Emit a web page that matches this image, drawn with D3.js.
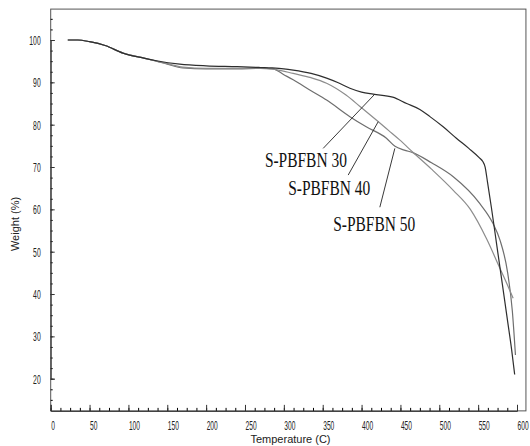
<html>
<head>
<script src="https://d3js.org/d3.v7.min.js"></script>
<style>
body { margin: 0; background: #fff; }
.tick text { font-family: "Liberation Sans", Arial, sans-serif; font-size: 13.5px; fill: #222; }
.axis-title { font-family: "Liberation Sans", Arial, sans-serif; font-size: 11px; fill: #222; }
.lbl { font-family: "Liberation Serif", "Times New Roman", serif; font-size: 20px; fill: #111; }
</style>
</head>
<body>
<svg id="chart" width="530" height="446"></svg>
<script>
// TGA curves: temperature (C) and weight (%)
var tempA = [22, 35, 50, 70, 93, 120, 136, 166, 200, 240, 270, 285, 300, 312, 335, 355, 370, 385, 400, 415, 440, 458, 475, 488, 505, 522, 538, 552, 556, 559, 562, 567, 574, 581, 588, 593, 597]
var wtA   = [100, 100, 99.6, 98.7, 96.9, 95.7, 95.1, 94.3, 93.9, 93.7, 93.5, 93.4, 93.2, 92.9, 92.1, 91.0, 89.9, 88.6, 87.7, 87.2, 86.5, 85.0, 83.6, 81.9, 79.5, 76.8, 74.4, 72.1, 71.3, 70.0, 66.5, 60.5, 51.5, 42.5, 33.5, 27, 21]

var tempB = [22, 35, 50, 70, 93, 120, 136, 150, 170, 200, 240, 270, 290, 312, 335, 355, 380, 398, 419, 435, 449, 466, 490, 518, 540, 561, 577, 588, 595]
var wtB   = [100, 100, 99.6, 98.7, 96.9, 95.7, 95.0, 94.4, 93.6, 93.3, 93.3, 93.4, 93.0, 92.1, 91.1, 89.8, 87.0, 84.3, 81.1, 78.6, 76.4, 73.5, 69.5, 64.5, 60, 53, 46.5, 42, 39]

var tempC = [22, 35, 50, 70, 93, 120, 136, 150, 170, 200, 240, 270, 286, 300, 312, 335, 355, 385, 406, 432, 443, 455, 466, 490, 518, 552, 569, 578, 588, 594, 598]
var wtC   = [100, 100, 99.6, 98.7, 96.9, 95.7, 95.0, 94.3, 93.4, 93.2, 93.2, 93.3, 93.2, 91.8, 90.6, 88.0, 85.8, 81.9, 79.5, 76.8, 74.9, 74.0, 73.4, 71, 67.7, 61.4, 56.7, 52.8, 45, 36, 25.6]

var seriesNames = ["S-PBFBN 30", "S-PBFBN 40", "S-PBFBN 50"]
var xTicks = [0, 50, 100, 150, 200, 250, 300, 350, 400, 450, 500, 550, 600]
var yTicks = [20, 30, 40, 50, 60, 70, 80, 90, 100]
// label text position and leader line (from, to) in data units
var labelPos = [[275.6, 70.0], [305.6, 63.3], [363.5, 55.0]]
var leaderFrom = [[350.6, 74.4], [382.8, 68.1], [423.5, 60.5]]
var leaderTo = [[417, 87.2], [421.4, 80.7], [442.8, 74.4]]

var svg = d3.select("#chart")
var x = d3.scaleLinear().domain([0, 600]).range([50.7, 517])
var y = d3.scaleLinear().domain([20, 100]).range([378.7, 40])
var xMax = 611.5, yMin = 12.4, yMax = 107.3

// frame
svg.append("rect")
    .attr("x", x(0)).attr("y", y(yMax))
    .attr("width", x(xMax) - x(0)).attr("height", y(yMin) - y(yMax))
    .attr("fill", "none").attr("stroke", "#555").attr("stroke-width", 1)

// minor ticks
svg.append("g")
    .attr("transform", "translate(0," + y(yMin) + ")")
    .call(d3.axisBottom(x).tickValues(d3.range(0, 612, 12.5)).tickSize(-3).tickFormat(""))
    .call(g => g.select(".domain").remove())
svg.append("g")
    .attr("transform", "translate(" + x(0) + ",0)")
    .call(d3.axisLeft(y).tickValues(d3.range(15, 107, 2.5)).tickSize(-2).tickFormat(""))
    .call(g => g.select(".domain").remove())

// major ticks + labels
var gx = svg.append("g")
    .attr("transform", "translate(0," + y(yMin) + ")")
    .call(d3.axisBottom(x).tickValues(xTicks).tickSize(-6).tickPadding(10))
gx.select(".domain").attr("stroke", "#333")
gx.selectAll(".tick line").attr("stroke", "#333")
gx.selectAll(".tick text")
    .attr("text-anchor", "start")
    .attr("textLength", d => String(d).length * 3.7)
    .attr("lengthAdjust", "spacingAndGlyphs")

var gy = svg.append("g")
    .attr("transform", "translate(" + x(0) + ",0)")
    .call(d3.axisLeft(y).tickValues(yTicks).tickSize(-4).tickPadding(10))
gy.select(".domain").attr("stroke", "#333")
gy.selectAll(".tick line").attr("stroke", "#333")
gy.selectAll(".tick text")
    .attr("textLength", d => String(d).length * 3.8)
    .attr("lengthAdjust", "spacingAndGlyphs")

svg.append("text").attr("class", "axis-title")
    .attr("x", 290.5).attr("y", 443).attr("text-anchor", "middle")
    .text("Temperature (C)")
svg.append("text").attr("class", "axis-title")
    .attr("transform", "translate(19,224) rotate(-90)").attr("text-anchor", "middle")
    .text("Weight (%)")

// curves
var line = d3.line().x(d => x(d[0])).y(d => y(d[1])).curve(d3.curveMonotoneX)
var curves = [
    {t: tempC, w: wtC, color: "#6e6e6e"},
    {t: tempB, w: wtB, color: "#8c8c8c"},
    {t: tempA, w: wtA, color: "#2e2e2e"}
]
curves.forEach(function(c) {
    svg.append("path")
        .datum(d3.zip(c.t, c.w))
        .attr("d", line)
        .attr("fill", "none")
        .attr("stroke", c.color)
        .attr("stroke-width", 1.2)
})

// labels with leader lines
seriesNames.forEach(function(name, i) {
    svg.append("line")
        .attr("x1", x(leaderFrom[i][0])).attr("y1", y(leaderFrom[i][1]))
        .attr("x2", x(leaderTo[i][0])).attr("y2", y(leaderTo[i][1]))
        .attr("stroke", "#222").attr("stroke-width", 0.9)
    svg.append("text").attr("class", "lbl")
        .attr("x", x(labelPos[i][0])).attr("y", y(labelPos[i][1]))
        .attr("textLength", 82).attr("lengthAdjust", "spacingAndGlyphs")
        .text(name)
})
</script>
</body>
</html>
